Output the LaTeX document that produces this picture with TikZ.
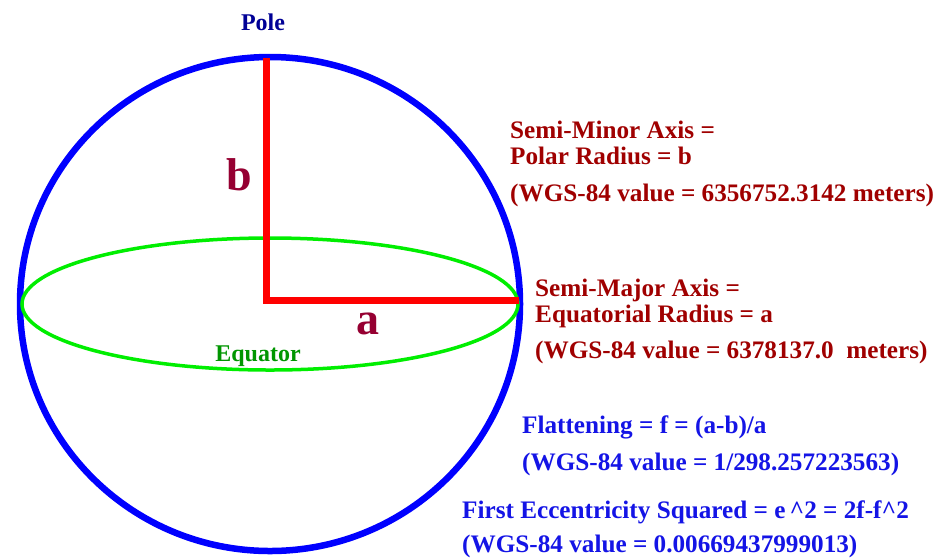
\documentclass[tikz,border=0pt]{standalone}
\usepackage{fontspec}
\setmainfont{Liberation Serif}
\definecolor{sphereblue}{RGB}{0,0,255}
\definecolor{axisred}{RGB}{255,0,0}
\definecolor{eqgreen}{RGB}{0,238,0}
\definecolor{eqtext}{RGB}{0,150,0}
\definecolor{poleblue}{RGB}{0,0,150}
\definecolor{darkred}{RGB}{160,0,0}
\definecolor{maroon}{RGB}{150,0,50}
\definecolor{txtblue}{RGB}{20,20,230}
\begin{document}
\begin{tikzpicture}[x=1pt,y=-1pt,
  lbl/.style={inner sep=0pt,anchor=base west,font=\bfseries\fontsize{25.2}{27}\selectfont},
  redlbl/.style={lbl,text=darkred},
  bluelbl/.style={lbl,text=txtblue},
  biglbl/.style={inner sep=0pt,anchor=base,text=maroon,font=\bfseries\fontsize{46}{48}\selectfont}]
\useasboundingbox (0,0) rectangle (949,558);
\fill[white] (0,0) rectangle (949,558);
% sphere and equator
\draw[sphereblue,line width=6.5pt] (270,304) ellipse [x radius=250, y radius=247];
\draw[eqgreen,line width=3.5pt] (270,304) ellipse [x radius=248, y radius=66];
% axes
\coordinate (P) at (266,58);
\coordinate (O) at (266,300.5);
\coordinate (E) at (519,300.5);
\draw[axisred,line width=7pt,line join=miter] (P) -- (O) -- (E);
% labels
\node[inner sep=0pt,anchor=base,text=poleblue,font=\bfseries\fontsize{24}{26}\selectfont] (pole) at (263,30) {Pole};
\node[biglbl] (b) at (239,190) {b};
\node[biglbl] (a) at (368,334) {a};
\node[inner sep=0pt,anchor=base,text=eqtext,font=\bfseries\fontsize{24}{26}\selectfont] (equator) at (258,361) {Equator};
\node[redlbl,text depth=0pt] (minor1) at (510,138.5) {Semi-Minor Axis =};
\node[redlbl,text height=18pt] (minor2) at (510,164.5) {Polar Radius = b};
\node[redlbl] (minor3) at (510,201) {(WGS-84 value = 6356752.3142 meters)};
\node[redlbl,text depth=4pt] (major1) at (535,296) {Semi-Major Axis =};
\node[redlbl,text height=18pt] (major2) at (535,322.5) {Equatorial Radius = a};
\node[redlbl] (major3) at (535,358) {(WGS-84 value = 6378137.0\ \ meters)};
\node[bluelbl] (flat1) at (522,433) {Flattening = f = (a-b)/a};
\node[bluelbl] (flat2) at (522,470) {(WGS-84 value = 1/298.257223563)};
\node[bluelbl] (ecc1) at (462,518) {First Eccentricity Squared = e\,\textasciicircum2 = 2f-f\textasciicircum2};
\node[bluelbl] (ecc2) at (462,552) {(WGS-84 value = 0.00669437999013)};
\end{tikzpicture}
\end{document}
